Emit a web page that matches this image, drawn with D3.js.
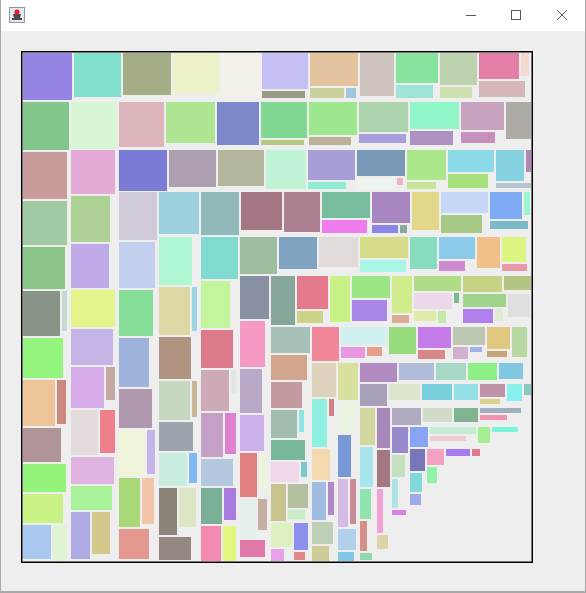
<!DOCTYPE html>
<html><head><meta charset="utf-8">
<script src="https://cdn.jsdelivr.net/npm/d3@7"></script>
<style>html,body{margin:0;padding:0;background:#eeeeee;overflow:hidden}</style>
</head><body>
<svg id="c" width="586" height="593"></svg>
<script>
// ---- DATA ----
// Treemap bands (strips), laid out in order; "row" bands run left→right, "col" bands top→bottom
const bandDirs  = ["row","col","row","col","row","col","row","col","col","row","col","row","col","row","col","col","row","row","col","col","row","col","row","col","row"];
const bandSizes = [49,48,48,48,42,40,45,42,39,39,31,51,41,36,26,22,21,24,17,15,19,18,22,17,22];
// Each band: list of cells; a leaf is [width, height]; nested lists alternate direction
const band01 = [[49,47],[47,44],[48,42],[46,40],[39,44],[[46,36],[43,7]],[[48,33],[[34,10],[10,10]]],[34,43],[[42,30],[37,13]],[[37,32],[32,11]],[[[40,26],[8,23]],[46,16]]];
const band02 = [[46,48],[44,47],[44,44],[42,42],[[37,45],[5,40]],[40,40],[[32,46],[9,44]],[38,34],[43,28],[40,29],[[28,34],[14,36]]];
const band03 = [[46,47],[45,45],[49,41],[42,43],[[46,36],[43,5]],[[48,33],[42,8]],[[49,30],[47,9]],[[49,27],[43,14]],[[43,28],[34,11]],[25,37]];
const band04 = [[44,44],[39,46],[38,44],[44,37],[42,36],[[33,41],[9,33]],[[27,45],[15,43]],[43,27],[41,24],[[19,47],[18,42]]];
const band05 = [[48,41],[47,37],[46,36],[40,39],[[47,30],[38,7]],[[48,26],[[38,12],[6,7]]],[[39,30],[29,7]],[[46,22],[40,14]],[[[28,31],[5,22]],[35,5]]];
const band06 = [[38,48],[36,46],[34,46],[30,49],[33,39],[[26,46],[8,44]],[[21,49],[12,46]],[30,30]];
const band07 = [[40,42],[38,43],[41,38],[36,40],[[48,26],[45,13]],[[38,31],[[26,8],[7,8]]],[27,38],[[47,21],[41,18]],[[[32,27],[6,23]],[38,8]]];
const band08 = [[33,48],[[31,48],[5,44]],[32,42],[[31,39],[5,36]],[34,29],[[28,33],[8,30]],[[18,47],[17,39]],[32,23]];
const band09 = [[37,42],[29,47],[32,38],[[28,41],[5,23]],[[22,44],[11,41]],[32,27],[[21,36],[12,32]],[[20,35],[13,35]]];
const band10 = [[37,37],[38,32],[39,30],[[48,21],[46,12]],[27,32],[[36,22],[26,10]],[23,31],[[24,25],[25,7]]];
const band11 = [[29,43],[25,46],[22,44],[24,36],[[17,44],[7,36]],[[16,39],[9,31]],[25,17]];
const band12 = [[24,49],[[31,33],[26,12]],[20,46],[[38,22],[35,21]],[[20,37],[17,8]],[[47,15],[[38,16],[5,10]],[[22,10],[8,12]]],[[[39,16],[27,14]],[[[43,13],[[30,14],[8,12]]],[22,23]]]];
const band13 = [[39,26],[36,25],[31,26],[[26,28],[5,22]],[34,20],[[28,20],[6,15]],[[15,37],[[20,24],[17,9]]],[[[21,24],[13,12]],[[14,27],[11,8]]]];
const band14 = [[27,34],[[46,18],[[24,11],[15,9]]],[27,27],[[33,21],[27,9]],[[32,18],[[15,12],[12,5]]],[[23,22],[20,6]],[15,30]];
const band15 = [[24,34],[[15,48],[5,17]],[18,31],[[14,38],[6,33]],[21,22],[17,15]];
const band16 = [[20,37],[18,31],[13,42],[[10,48],[6,45]],[18,21],[16,9]];
const band17 = [[37,19],[35,17],[30,17],[29,17],[24,16]];
const band18 = [[27,22],[31,16],[30,16],[24,16],[[25,13],[20,5]],[15,17],[7,11]];
const band19 = [[15,37],[13,40],[11,30],[7,30],[12,7]];
const band20 = [[13,40],[13,37],[6,44],[11,14]];
const band21 = [[29,17],[29,14],[24,14],[[41,5],[27,5]]];
const band22 = [[16,26],[13,22],[6,29],[14,5]];
const band23 = [[18,20],[[46,7],[36,5]],[12,16],[26,5]];
const band24 = [[15,22],[12,19],[11,11]];
const band25 = [[[17,16],[10,16]],[24,7],[8,7]];

const bandColors = [
 ["#9584e2","#80e0cc","#a3ad86","#eef0c8","#f4f1ea","#c6c0f5","#999c80","#e3c49e","#cad19d","#a0c6dc","#cdc4be","#86e49e","#9fe3d8","#bfd2b0","#cee0ae","#e57ea7","#f5d8ce","#d5b6b9"],
 ["#83c68c","#c99b9a","#a0cba2","#8ac488","#889487","#c4d9d1","#93f57e","#eec598","#cd8880","#b09498","#92f27a","#c8f284","#a8c8f0","#e0f4d4"],
 ["#d8f5d5","#dbb5b9","#aee593","#7b88c9","#80d893","#b3c881","#9de78f","#bcb09a","#aed4ad","#a99edc","#92f7c8","#ae91c0","#c6a4c0","#c78fbe","#aeaaa6"],
 ["#e3aad8","#aed196","#bdaae6","#e3f58a","#c4b5e6","#d4aae8","#c4a8a6","#e4dcdc","#f07f8c","#e0b4e0","#a8f29a","#aeaae4","#d4c88c"],
 ["#7b7ad6","#aca0b0","#b3b59c","#c0f2d5","#a79ed6","#90ecd6","#7a98b8","#edf4ee","#f0b4c0","#abe88c","#c6e49a","#8ddae9","#a6e07c","#85d1e0","#ae8ab5","#b5c5cf"],
 ["#d0c9d8","#c2cfee","#86de98","#9db3dc","#b098ae","#f0f4d8","#c4b4e8","#a8d878","#f2c4a8","#e49890"],
 ["#9ccfdc","#92b9ba","#a57783","#ad7f92","#77bd9e","#ef7ced","#a886c0","#8c84ea","#8ba89a","#e3d78a","#c6d8f5","#a8c885","#7eabf3","#9ef3d0","#7bb9c9"],
 ["#aef7d2","#ddd8a4","#9fd2e6","#b09380","#c6d7c0","#c9b895","#9ca4ac","#c8ece0","#80b8f4","#8a8578","#dce6c4","#948880"],
 ["#80dad0","#c2f59c","#dc7a8c","#ceaab8","#dfe8e2","#c4a0c4","#dc80d0","#b4c8e0","#7ab098","#a87ce0","#f48ab0","#e0f880"],
 ["#9cbd9f","#7fa2c0","#e0dad8","#d6dc8a","#aaf6e5","#88dcc0","#8ccbea","#d08ad0","#f0c088","#dcf580","#e898a8"],
 ["#8890a4","#f59ac3","#b8a8c8","#ccb0ec","#e08080","#eef4dc","#e4f0ec","#c4b0a0","#e078a8"],
 ["#86a69a","#e47a8c","#ccd386","#c8f286","#9de685","#a888e6","#d0ec8c","#dcac98","#b0dc88","#ecd8e8","#7cb890","#e0eaa8","#c4eaa8","#c4d484","#b4c484","#a0d48c","#b080ec","#dcecd0","#e0dfe0"],
 ["#a7c1b8","#d2a68c","#c49a9e","#a0bcac","#90e4e4","#78b898","#f0d8e8","#7cc8d0","#c8c48c","#b4c0a0","#c8ecc4","#dcf0c0","#e8a0e8","#8c90e8","#e08888"],
 ["#f0889a","#d1f0f0","#e898e0","#e8a08c","#94dc7c","#c47ce8","#d88888","#bcc8b0","#d0b0d0","#a0b0ec","#e2c880","#c4a478","#b8d8a4"],
 ["#ded2bc","#90f0e0","#d08088","#f4d8b0","#a0bce0","#b088c4","#c0d0b8","#d0cc98"],
 ["#d8e0a0","#e8f4e0","#7898d8","#d4bce4","#c88c98","#b0d0ec","#80c8e8"],
 ["#b08ac0","#b0bcd8","#a8d8c8","#90f088","#80c8e0"],
 ["#a8a0b8","#dce6cc","#78d0dc","#98e0e8","#c094a8","#dcd08c","#88f0ec","#88c8c0"],
 ["#d0d8a0","#a8e4ec","#90e4b0","#d49088","#90d8b0"],
 ["#a888b8","#a47880","#f4a0d8","#dcd4a8"],
 ["#b0aac0","#d0dcc8","#80b490","#a0b0c0","#f094b0"],
 ["#9888cc","#c4e0c0","#b0e4e4","#d880e8"],
 ["#88a4f4","#c4ecd4","#ecccd0","#a4f090","#7cf4dc"],
 ["#7878b8","#80d8d8","#a0a8ec"],
 ["#f4a0c0","#90f4a8","#a87cf0","#dc7890"]
];

// ---- LAYOUT ----
const bands = [band01,band02,band03,band04,band05,band06,band07,band08,band09,band10,band11,band12,band13,band14,band15,band16,band17,band18,band19,band20,band21,band22,band23,band24,band25];
const GAP = 2;
const isLeaf = n => typeof n[0] === "number";
function place(n, px, py, dir, out) {
  if (isLeaf(n)) { out.push({x: px, y: py, w: n[0], h: n[1]}); return {w: n[0], h: n[1]}; }
  const sub = dir === "h" ? "v" : "h";
  let cx = px, cy = py, w = 0, h = 0;
  n.forEach(c => {
    const m = place(c, cx, cy, sub, out);
    if (dir === "h") { cx += m.w + GAP; h = Math.max(h, m.h); }
    else { cy += m.h + GAP; w = Math.max(w, m.w); }
  });
  if (dir === "h") w = cx - px - GAP; else h = cy - py - GAP;
  return {w, h};
}
const leaves = [];
let ox = 1, oy = 1;
bands.forEach((band, i) => {
  const out = [];
  place(band, ox, oy, bandDirs[i] === "row" ? "h" : "v", out);
  out.forEach((r, j) => leaves.push(Object.assign(r, {color: bandColors[i][j] || "#cccccc"})));
  if (bandDirs[i] === "row") oy += bandSizes[i]; else ox += bandSizes[i];
});

// ---- DRAW ----
const svg = d3.select("#c");
// window chrome
svg.append("rect").attr("x",0).attr("y",0).attr("width",586).attr("height",593).attr("fill","#eeeeee");
svg.append("rect").attr("x",0).attr("y",0).attr("width",586).attr("height",31).attr("fill","#ffffff");
svg.append("rect").attr("x",0).attr("y",0).attr("width",1).attr("height",593).attr("fill","#a9a9a9");
svg.append("rect").attr("x",585).attr("y",0).attr("width",1).attr("height",593).attr("fill","#a9a9a9");
svg.append("rect").attr("x",0).attr("y",591).attr("width",586).attr("height",2).attr("fill","#a9a9a9");
// icon
const ic = svg.append("g");
ic.append("rect").attr("x",9.5).attr("y",7.5).attr("width",15).attr("height",15).attr("fill","#e4e8ee").attr("stroke","#8c9cb0");
ic.append("path").attr("d","M12 18 h10 v2 h-10 z M13 14 h8 l-1 4 h-6 z").attr("fill","#4a4a4a");
ic.append("circle").attr("cx",17).attr("cy",12).attr("r",2.6).attr("fill","#e0202a");
// buttons
const bc = "#5a5a5a";
svg.append("line").attr("x1",466).attr("x2",476).attr("y1",15.5).attr("y2",15.5).attr("stroke",bc).attr("stroke-width",1);
svg.append("rect").attr("x",511.5).attr("y",10.5).attr("width",9).attr("height",9).attr("fill","none").attr("stroke",bc).attr("stroke-width",1);
svg.append("line").attr("x1",557).attr("y1",10).attr("x2",567).attr("y2",20).attr("stroke",bc).attr("stroke-width",1);
svg.append("line").attr("x1",567).attr("y1",10).attr("x2",557).attr("y2",20).attr("stroke",bc).attr("stroke-width",1);

// plot
const xs = d3.scaleLinear().domain([0, 510]).range([22, 532]);
const ys = d3.scaleLinear().domain([0, 510]).range([52, 562]);
svg.append("g").selectAll("rect").data(leaves).join("rect")
  .attr("x", d => xs(d.x)).attr("y", d => ys(d.y))
  .attr("width", d => xs(d.x + d.w) - xs(d.x))
  .attr("height", d => ys(d.y + d.h) - ys(d.y))
  .attr("fill", d => d.color)
  .attr("shape-rendering","crispEdges");
svg.append("rect").attr("x",21.75).attr("y",51.75).attr("width",510.5).attr("height",510.5)
  .attr("fill","none").attr("stroke","#000").attr("stroke-width",1.5);
</script>
</body></html>
